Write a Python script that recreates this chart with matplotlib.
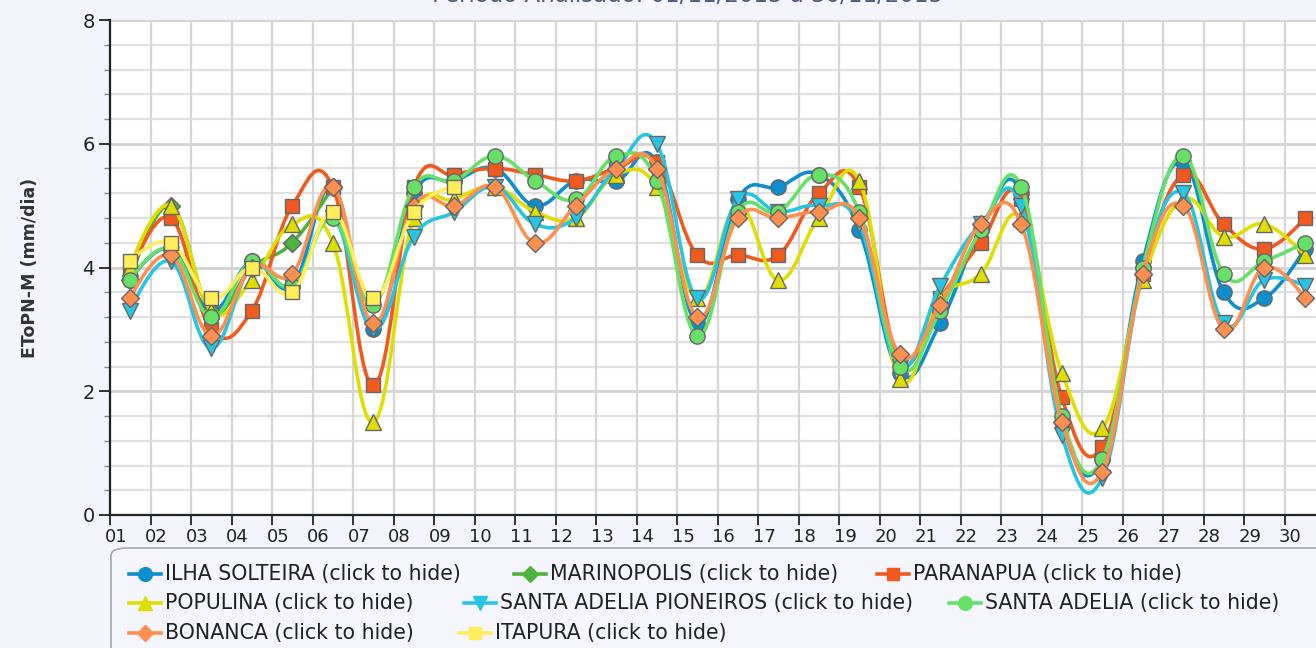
"""
EToPN-M daily values for several stations, November 2015,
drawn as Highcharts-style splines.
"""

import numpy as np
import matplotlib
matplotlib.use("Agg")
import matplotlib.pyplot as plt
from matplotlib.path import Path
from matplotlib.patches import PathPatch, FancyBboxPatch
from matplotlib.lines import Line2D
import matplotlib.transforms as mtransforms

DAYS = ["%02d" % d for d in range(1, 31)]

ilha_solteira = [3.8, 4.3, 3.3, 4.1, 3.7, 5.3, 3.0, 5.2, 5.4, 5.6, 5.0, 5.4, 5.4, 5.7, 3.1,
                 5.1, 5.3, 5.5, 4.6, 2.3, 3.1, 4.6, 5.2, 1.5, 0.9, 4.1, 5.7, 3.6, 3.5, 4.3]
marinopolis = [3.8, 5.0, 3.3, 4.0, 4.4, 5.3] + [None] * 24
paranapua = [3.9, 4.8, 3.0, 3.3, 5.0, 5.3, 2.1, 5.3, 5.5, 5.6, 5.5, 5.4, 5.6, 5.7, 4.2,
             4.2, 4.2, 5.2, 5.3, 2.5, 3.5, 4.4, 5.1, 1.9, 1.1, 3.9, 5.5, 4.7, 4.3, 4.8]
populina = [4.0, 5.0, 3.3, 3.8, 4.7, 4.4, 1.5, 4.8, 5.1, 5.3, 4.9, 4.8, 5.5, 5.3, 3.5,
            5.0, 3.8, 4.8, 5.4, 2.2, 3.5, 3.9, 4.8, 2.3, 1.4, 3.8, 5.1, 4.5, 4.7, 4.2]
sta_adelia_pioneiros = [3.3, 4.1, 2.7, 4.0, 3.7, 4.8, 3.0, 4.5, 4.9, 5.3, 4.7, 4.8, 5.6, 6.0, 3.5,
                        5.1, 4.9, 5.0, 4.7, 2.4, 3.7, 4.7, 5.0, 1.3, 0.6, 3.9, 5.2, 3.1, 3.8, 3.7]
sta_adelia = [3.8, 4.3, 3.2, 4.1, 3.7, 4.8, 3.4, 5.3, 5.4, 5.8, 5.4, 5.1, 5.8, 5.4, 2.9,
              4.9, 4.9, 5.5, 4.9, 2.4, 3.3, 4.6, 5.3, 1.6, 0.9, 4.0, 5.8, 3.9, 4.1, 4.4]
bonanca = [3.5, 4.2, 2.9, 4.0, 3.9, 5.3, 3.1, 5.0, 5.0, 5.3, 4.4, 5.0, 5.6, 5.6, 3.2,
           4.8, 4.8, 4.9, 4.8, 2.6, 3.4, 4.7, 4.7, 1.5, 0.7, 3.9, 5.0, 3.0, 4.0, 3.5]
itapura = [4.1, 4.4, 3.5, 4.0, 3.6, 4.9, 3.5, 4.9, 5.3] + [None] * 21

SERIES = [
    ("ILHA SOLTEIRA", ilha_solteira, "#0d8ecf", "o"),
    ("MARINOPOLIS", marinopolis, "#4eb33a", "D"),
    ("PARANAPUA", paranapua, "#f05a1e", "s"),
    ("POPULINA", populina, "#dede00", "^"),
    ("SANTA ADELIA PIONEIROS", sta_adelia_pioneiros, "#26c6e3", "v"),
    ("SANTA ADELIA", sta_adelia, "#66e066", "o"),
    ("BONANCA", bonanca, "#ff8f4f", "D"),
    ("ITAPURA", itapura, "#ffee5a", "s"),
]
MARKER_SIZE = {"o": 11, "D": 9, "s": 9.5, "^": 11, "v": 11}


def spline_path(xs, ys):
    """Old-style Highcharts spline (smoothing 1.5, no extreme clamping)."""
    smoothing = 1.5
    denom = smoothing + 1
    verts = [(xs[0], ys[0])]
    codes = [Path.MOVETO]
    right = [None] * len(xs)
    for i in range(1, len(xs)):
        x, y = xs[i], ys[i]
        lc = (x, y)
        if i + 1 < len(xs):
            lx, ly = xs[i - 1], ys[i - 1]
            nx, ny = xs[i + 1], ys[i + 1]
            lcx = (smoothing * x + lx) / denom
            lcy = (smoothing * y + ly) / denom
            rcx = (smoothing * x + nx) / denom
            rcy = (smoothing * y + ny) / denom
            corr = (rcy - lcy) * (rcx - x) / (rcx - lcx) + y - rcy
            lc = (lcx, lcy + corr)
            right[i] = (rcx, rcy + corr)
        prev = right[i - 1] if right[i - 1] is not None else (xs[i - 1], ys[i - 1])
        verts += [prev, lc, (x, y)]
        codes += [Path.CURVE4] * 3
    return Path(verts, codes)


fig = plt.figure(figsize=(13.16, 6.48), dpi=100)
fig.patch.set_facecolor("#f4f4fc")
W, H = 1316.0, 648.0
ax = fig.add_axes([110 / W, 1 - 515 / H, 1 - 110 / W, (515 - 20) / H])
ax.set_facecolor("white")

x_center = np.arange(len(DAYS)) + 0.5
ax.set_xlim(0, (W - 110) / 40.5)
ax.set_ylim(0, 8)

# grid
for v in np.arange(0, 8.01, 0.4):
    major = abs(v / 2 - round(v / 2)) < 1e-6
    ax.axhline(v, color="#d2d2d2" if major else "#e0e0e0", lw=2.0 if major else 1.6, zorder=0)
for d in range(len(DAYS)):
    ax.axvline(d, color="#d6d6d6", lw=1.6, zorder=0)

for k, (name, vals, color, marker) in enumerate(SERIES):
    pts = [(x, v) for x, v in zip(x_center, vals) if v is not None]
    xs = [p[0] for p in pts]
    ys = [p[1] for p in pts]
    ax.add_patch(PathPatch(spline_path(xs, ys), fill=False, edgecolor=color,
                           lw=2.6, zorder=2 + k * 0.1, capstyle="round", joinstyle="round"))
    ax.plot(xs, ys, ls="none", marker=marker, ms=MARKER_SIZE[marker], mfc=color,
            mec="#666666", mew=1.0, zorder=2.05 + k * 0.1, clip_on=False)

for side in ["top", "right"]:
    ax.spines[side].set_visible(False)
ax.spines["left"].set_color("#222222")
ax.spines["bottom"].set_color("#222222")
ax.spines["left"].set_linewidth(1.6)
ax.spines["bottom"].set_linewidth(1.6)

ax.set_yticks([0, 2, 4, 6, 8])
ax.set_yticks(np.arange(0, 8.01, 0.4), minor=True)
ax.tick_params(axis="y", which="major", length=8, width=1.3, color="#222222",
               labelsize=14, pad=3, labelcolor="#222222")
ax.tick_params(axis="y", which="minor", length=4, width=1.0, color="#888888")
ax.set_xticks(range(len(DAYS)))
ax.set_xticklabels(DAYS)
ax.tick_params(axis="x", length=7, width=1.3, color="#222222", labelsize=13,
               pad=2, labelcolor="#222222")
offset = mtransforms.ScaledTranslation(6 / 100, 0, fig.dpi_scale_trans)
for lab in ax.get_xticklabels():
    lab.set_transform(lab.get_transform() + offset)

fig.text(30 / W, 1 - 268 / H, "EToPN-M (mm/dia)", rotation=90, ha="center", va="center",
         fontsize=12.5, fontweight="bold", color="#333333")
# title sits mostly above the visible area, as in the cropped original
fig.text(688 / W, 1 + 5 / H, "Período Analisado: 01/11/2015 a 30/11/2015", ha="center",
         va="center", fontsize=16.5, color="#4d5b7c")

# legend box
box = FancyBboxPatch((111 / W, -0.1), 1.1, (1 - 548 / H) + 0.1,
                     boxstyle="round,pad=0,rounding_size=0.012",
                     transform=fig.transFigure, facecolor="#f5f5fd",
                     edgecolor="#a8a8a8", lw=1.2, zorder=0)
fig.patches.append(box)

legend_pos = [
    (145, 574), (530, 574), (893, 574),
    (145, 603), (480, 603), (965, 603),
    (145, 633), (475, 633),
]
for (name, vals, color, marker), (lx, ly) in zip(SERIES, legend_pos):
    yf = 1 - ly / H
    fig.add_artist(Line2D([(lx - 16) / W, (lx + 16) / W], [yf, yf], color=color, lw=2.6,
                          marker=None, transform=fig.transFigure))
    fig.add_artist(Line2D([lx / W], [yf], color=color, marker=marker,
                          ms=MARKER_SIZE[marker] * 0.9, mec=color, ls="none",
                          transform=fig.transFigure))
    fig.text((lx + 20) / W, yf, name + " (click to hide)", ha="left", va="center",
             fontsize=14.8, color="#222222")

fig.savefig("out.png", dpi=100, facecolor=fig.get_facecolor())
